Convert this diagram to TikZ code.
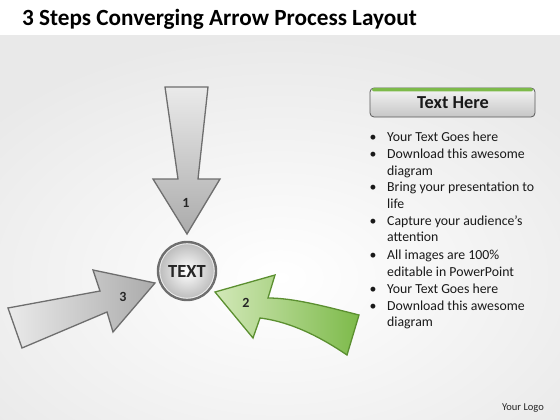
\documentclass[tikz,border=0pt]{standalone}
\usepackage{fontspec}
\setmainfont{Carlito}
\usetikzlibrary{shapes.geometric}
\definecolor{arrowgrayA}{HTML}{EAEAEA}
\definecolor{arrowgrayB}{HTML}{ABABAB}
\definecolor{arrowedge}{HTML}{6E6E6E}
\definecolor{greenA}{HTML}{D2E8B8}
\definecolor{greenB}{HTML}{7DBA4A}
\definecolor{greenedge}{HTML}{5B8F30}
\definecolor{bgedge}{HTML}{E9E9E9}
\tikzset{
  x=1pt, y=-1pt,
  grayarrow/.style={draw=arrowedge, line width=1.3pt, line join=miter},
  greenarrow/.style={draw=greenedge, line width=1.3pt, line join=miter},
  numlabel/.style={font=\bfseries\fontsize{14}{16}\selectfont, text=black!85},
  bullettext/.style={anchor=base west, font=\fontsize{13.8}{16}\selectfont, text=black!90, inner sep=0pt},
  bulletdot/.style={anchor=base, font=\fontsize{13.8}{16}\selectfont, text=black!90, inner sep=0pt},
}
\begin{document}
\begin{tikzpicture}
\useasboundingbox (0,0) rectangle (560,420);
% background
\shade[inner color=white, outer color=bgedge] (-100,35) rectangle (660,520);
\fill[white] (0,0) rectangle (560,35);
% title
\node[anchor=base west, inner sep=0pt, font=\bfseries\fontsize{23.2}{27}\selectfont] (title) at (22,26) {3 Steps Converging Arrow Process Layout};

% arrow 1 (top, gray)
\shade[grayarrow, top color=arrowgrayA, bottom color=arrowgrayB]
  (165,87) -- (208,87) -- (198,179) -- (220,179) -- (187,234) -- (153,179) -- (178,179) -- cycle;
\node[numlabel] (n1) at (186,203) {1};

% arrow 3 (left, gray)
\shade[grayarrow, left color=arrowgrayA, right color=arrowgrayB]
  (8,308) -- (100,291) -- (93,270) -- (155,283) -- (113,332) -- (107,312) -- (22,348) -- cycle;
\node[numlabel] (n3) at (123,297) {3};

% arrow 2 (right, green)
\shade[greenarrow, left color=greenA, right color=greenB]
  (359,315) .. controls (320,305) and (292,298) .. (268,298) -- (275,275) -- (215,292) -- (253,338) -- (260,318)
  .. controls (292,322) and (322,338) .. (347,355) -- cycle;
\node[numlabel] (n2) at (246,303) {2};

% center circle
\shade[inner color=white, outer color=gray!55, draw=arrowedge, line width=2.4pt] (187,271) circle (29);
\draw[white!85!gray, line width=0.8pt] (187,271) circle (27.2);
\node[font=\bfseries\fontsize{18.5}{22}\selectfont, text=black!85] (center) at (187,272) {TEXT};

% right heading box
\shade[top color=white!92!gray, bottom color=gray!45, draw=gray!70!black, line width=0.8pt, rounded corners=4pt]
  (370,88) rectangle (535,117);
\fill[greenB, rounded corners=2pt] (372,88) rectangle (533,91.5);
\node[font=\bfseries\fontsize{18.3}{21}\selectfont, text=black!90] (head) at (453,103) {Text Here};

% bullets
\foreach \yy/\txt/\bul in {
  141.5/Your Text Goes here/1,
  158.2/Download this awesome/1,
  175/diagram/0,
  191.6/Bring your presentation to/1,
  208.3/life/0,
  225/Capture your audience’s/1,
  241.6/attention/0,
  259.8/All images are 100\%/1,
  276.5/editable in PowerPoint/0,
  293.2/Your Text Goes here/1,
  310/Download this awesome/1,
  326.6/diagram/0} {
  \node[bullettext] at (387,\yy) {\txt};
  \ifnum\bul=1 \node[bulletdot] at (373,\yy) {•}; \fi
}

% logo
\node[font=\fontsize{10.5}{12}\selectfont, text=black!85] (logo) at (523,408) {Your Logo};
\end{tikzpicture}
\end{document}
